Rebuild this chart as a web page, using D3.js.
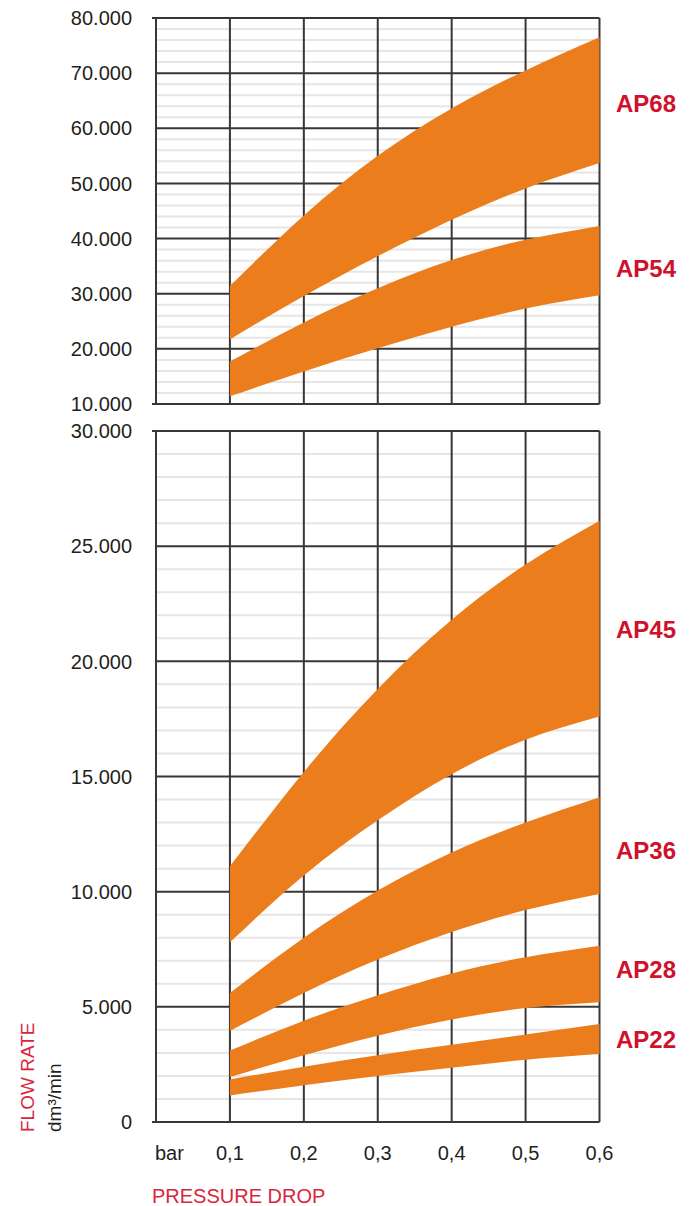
<!DOCTYPE html>
<html>
<head>
<meta charset="utf-8">
<script src="https://cdn.jsdelivr.net/npm/d3@7"></script>
<style>
  body { margin: 0; background: #fff; }
  text { font-family: "Liberation Sans", Arial, sans-serif; fill: #231f20; }
</style>
</head>
<body>
<svg id="chart" width="692" height="1206"></svg>
<script>
// pressure drop (bar)
const pressure = [0.1, 0.2, 0.3, 0.4, 0.5, 0.6];
const xTicks = [0.1, 0.2, 0.3, 0.4, 0.5, 0.6];
const xTickLabels = ["0,1", "0,2", "0,3", "0,4", "0,5", "0,6"];

// upper panel, dm3/min
const topTicks = [10000, 20000, 30000, 40000, 50000, 60000, 70000, 80000];
const ap68Low = [21700, 29600, 36800, 43400, 49100, 53700];
const ap68High = [31400, 44200, 55000, 63600, 70500, 76500];
const ap54Low = [11400, 15900, 20100, 24000, 27300, 29700];
const ap54High = [17700, 24800, 31000, 36100, 39800, 42300];

// lower panel, dm3/min
const bottomTicks = [0, 5000, 10000, 15000, 20000, 25000, 30000];
const ap45Low = [7800, 10700, 13100, 15100, 16600, 17600];
const ap45High = [11100, 15200, 18800, 21800, 24200, 26100];
const ap36Low = [3950, 5600, 7050, 8250, 9200, 9900];
const ap36High = [5600, 8000, 10050, 11700, 13000, 14100];
const ap28Low = [1950, 2900, 3750, 4450, 4950, 5200];
const ap28High = [3100, 4400, 5500, 6450, 7150, 7650];
const ap22Low = [1150, 1600, 2000, 2350, 2700, 2950];
const ap22High = [1850, 2400, 2900, 3350, 3800, 4250];

const fmt = v => v === 0 ? "0" : d3.format(",.3f")(v / 1000).replace(",", "");

const svg = d3.select("#chart");
const orange = "#ec7d1d";
const red = "#d0112b";
const gridDark = "#3b3636";
const gridLight = "#e6e6e6";

const x = d3.scaleLinear().domain([0, 0.6]).range([156, 599.5]);

function panel(y, ticks, minorStep, bands) {
  const g = svg.append("g");
  const [lo, hi] = y.domain();

  // light minor lines
  g.selectAll(".minor")
    .data(d3.range(lo, hi, minorStep).filter(v => v % (ticks[1] - ticks[0]) !== 0))
    .join("line")
    .attr("x1", x(0)).attr("x2", x(0.6))
    .attr("y1", d => y(d)).attr("y2", d => y(d))
    .attr("stroke", gridLight).attr("stroke-width", 2);

  // major horizontal lines (border ones stick out a little)
  g.selectAll(".major")
    .data(ticks)
    .join("line")
    .attr("x1", d => (d === lo || d === hi) ? x(0) - 4 : x(0))
    .attr("x2", x(0.6))
    .attr("y1", d => y(d)).attr("y2", d => y(d))
    .attr("stroke", gridDark).attr("stroke-width", 2);

  // vertical lines
  g.selectAll(".vert")
    .data([0].concat(xTicks))
    .join("line")
    .attr("x1", d => x(d)).attr("x2", d => x(d))
    .attr("y1", y(hi)).attr("y2", y(lo))
    .attr("stroke", gridDark).attr("stroke-width", 2);

  // tick labels
  g.selectAll(".ylab")
    .data(ticks)
    .join("text")
    .attr("x", 132)
    .attr("y", d => y(d))
    .attr("dy", "0.36em")
    .attr("text-anchor", "end")
    .style("font-size", "20px")
    .text(fmt);

  // orange bands
  bands.forEach(b => {
    const area = d3.area()
      .x((d, i) => x(pressure[i]))
      .y0((d, i) => y(b.low[i]))
      .y1((d, i) => y(b.high[i]))
      .curve(d3.curveNatural);
    g.append("path")
      .attr("d", area(pressure))
      .attr("fill", orange);
    g.append("text")
      .attr("x", 616)
      .attr("y", b.labelY)
      .attr("dy", "0.36em")
      .style("font-size", "24px")
      .style("font-weight", "bold")
      .style("fill", red)
      .text(b.name);
  });
}

const yTop = d3.scaleLinear().domain([10000, 80000]).range([404, 18]);
const yBottom = d3.scaleLinear().domain([0, 30000]).range([1122, 431]);

panel(yTop, topTicks, 2000, [
  { name: "AP68", low: ap68Low, high: ap68High, labelY: 103 },
  { name: "AP54", low: ap54Low, high: ap54High, labelY: 268 }
]);

panel(yBottom, bottomTicks, 1000, [
  { name: "AP45", low: ap45Low, high: ap45High, labelY: 629 },
  { name: "AP36", low: ap36Low, high: ap36High, labelY: 850 },
  { name: "AP28", low: ap28Low, high: ap28High, labelY: 969 },
  { name: "AP22", low: ap22Low, high: ap22High, labelY: 1039 }
]);

// x labels
svg.append("text")
  .attr("x", 155).attr("y", 1160)
  .style("font-size", "20px")
  .text("bar");

svg.selectAll(".xlab")
  .data(xTicks)
  .join("text")
  .attr("x", d => x(d))
  .attr("y", 1160)
  .attr("text-anchor", "middle")
  .style("font-size", "20px")
  .text((d, i) => xTickLabels[i]);

svg.append("text")
  .attr("x", 152).attr("y", 1203)
  .style("font-size", "20px")
  .style("fill", "#d9263e")
  .text("PRESSURE DROP");

// y axis title
svg.append("text")
  .attr("transform", "translate(34,1132) rotate(-90)")
  .style("font-size", "19px")
  .style("fill", "#d9263e")
  .text("FLOW RATE");

svg.append("text")
  .attr("transform", "translate(61,1132) rotate(-90)")
  .style("font-size", "19px")
  .text("dm³/min");
</script>
</body>
</html>
